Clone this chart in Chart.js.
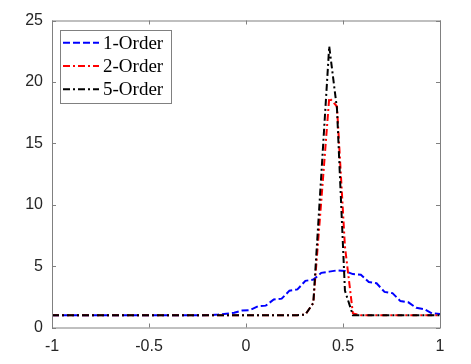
<!DOCTYPE html>
<html>
<head>
<meta charset="utf-8">
<script src="https://cdn.jsdelivr.net/npm/chart.js@4.4.1/dist/chart.umd.min.js"></script>
<style>
  body { margin: 0; background: #fff; }
  #chart { display: block; }
</style>
</head>
<body>
<canvas id="chart" width="471" height="364"></canvas>
<script>
// Grid points (x)
const xs = [
  -1.000, -0.959, -0.918, -0.878, -0.837, -0.796, -0.755, -0.714, -0.673, -0.633,
  -0.592, -0.551, -0.510, -0.469, -0.429, -0.388, -0.347, -0.306, -0.265, -0.224,
  -0.184, -0.143, -0.102, -0.061, -0.020, 0.020, 0.061, 0.102, 0.143, 0.184,
  0.224, 0.265, 0.306, 0.347, 0.388, 0.429, 0.469, 0.510, 0.551, 0.592,
  0.633, 0.673, 0.714, 0.755, 0.796, 0.837, 0.878, 0.918, 0.959, 1.000
];

const order1 = [
  1.0, 1.0, 1.0, 1.0, 1.0, 1.0, 1.0, 1.0, 1.0, 1.0,
  1.0, 1.0, 1.0, 1.0, 1.0, 1.0, 1.0, 1.0, 1.0, 1.0,
  1.02, 1.05, 1.12, 1.2, 1.38, 1.42, 1.72, 1.78, 2.28, 2.35,
  3.0, 3.1, 3.8, 3.9, 4.45, 4.55, 4.65, 4.6, 4.35, 4.3,
  3.7, 3.6, 2.9, 2.8, 2.15, 2.05, 1.6, 1.5, 1.15, 1.1
];

const order2 = [
  1.0, 1.0, 1.0, 1.0, 1.0, 1.0, 1.0, 1.0, 1.0, 1.0,
  1.0, 1.0, 1.0, 1.0, 1.0, 1.0, 1.0, 1.0, 1.0, 1.0,
  1.0, 1.0, 1.0, 1.0, 1.0, 1.0, 1.0, 1.0, 1.0, 1.0,
  1.0, 1.0, 1.05, 2.0, 10.3, 18.7, 18.0, 6.6, 1.15, 1.0,
  1.0, 1.0, 1.0, 1.0, 1.0, 1.0, 1.0, 1.0, 1.0, 1.0
];

const order5 = [
  1.0, 1.0, 1.0, 1.0, 1.0, 1.0, 1.0, 1.0, 1.0, 1.0,
  1.0, 1.0, 1.0, 1.0, 1.0, 1.0, 1.0, 1.0, 1.0, 1.0,
  1.0, 1.0, 1.0, 1.0, 1.0, 1.0, 1.0, 1.0, 1.0, 1.0,
  1.0, 1.0, 1.05, 2.0, 12.4, 22.9, 17.8, 3.0, 1.0, 1.0,
  1.0, 1.0, 1.0, 1.0, 1.0, 1.0, 1.0, 1.0, 1.0, 1.0
];

const seriesNames = ['1-Order', '2-Order', '5-Order'];
const xTicks = [-1, -0.5, 0, 0.5, 1];
const yTicks = [0, 5, 10, 15, 20, 25];

const axisColor = '#808080';
const textColor = '#262626';

function toPoints(ys) {
  return xs.map((x, i) => ({ x: x, y: ys[i] }));
}

// Rahmen und Ticks nach innen (MATLAB-Stil)
const boxPlugin = {
  id: 'box',
  afterDatasetsDraw(chart) {
    const { ctx, chartArea: a, scales } = chart;
    ctx.save();
    ctx.strokeStyle = axisColor;
    ctx.lineWidth = 1;
    ctx.strokeRect(a.left + 0.5, a.top + 0.5, a.right - a.left, a.bottom - a.top);
    ctx.beginPath();
    xTicks.forEach(v => {
      const px = Math.round(scales.x.getPixelForValue(v)) + 0.5;
      ctx.moveTo(px, a.bottom); ctx.lineTo(px, a.bottom - 4);
      ctx.moveTo(px, a.top); ctx.lineTo(px, a.top + 4);
    });
    yTicks.forEach(v => {
      const py = Math.round(scales.y.getPixelForValue(v)) + 0.5;
      ctx.moveTo(a.left, py); ctx.lineTo(a.left + 4, py);
      ctx.moveTo(a.right, py); ctx.lineTo(a.right - 4, py);
    });
    ctx.stroke();
    ctx.restore();
  }
};

// Legende oben links im Plotbereich
const legendPlugin = {
  id: 'boxLegend',
  afterDraw(chart) {
    const ctx = chart.ctx;
    const bx = 60.5, by = 30.5, bw = 111, bh = 73;
    ctx.save();
    ctx.fillStyle = '#fff';
    ctx.fillRect(bx, by, bw, bh);
    ctx.strokeStyle = axisColor;
    ctx.lineWidth = 1;
    ctx.strokeRect(bx, by, bw, bh);
    chart.data.datasets.forEach((ds, i) => {
      const y = 42.7 + i * 23.3;
      ctx.strokeStyle = ds.borderColor;
      ctx.lineWidth = 2;
      ctx.setLineDash(ds.borderDash);
      ctx.beginPath();
      ctx.moveTo(63, y);
      ctx.lineTo(99, y);
      ctx.stroke();
      ctx.setLineDash([]);
      ctx.fillStyle = '#000';
      ctx.font = '19px "Liberation Serif", serif';
      ctx.textBaseline = 'middle';
      ctx.textAlign = 'left';
      ctx.fillText(ds.label, 103, y + 1);
    });
    ctx.restore();
  }
};

const ctx = document.getElementById('chart').getContext('2d');
new Chart(ctx, {
  type: 'line',
  data: {
    datasets: [
      { label: seriesNames[0], data: toPoints(order1), borderColor: '#0000ff', borderDash: [7, 3], order: 3 },
      { label: seriesNames[1], data: toPoints(order2), borderColor: '#ff0000', borderDash: [7, 3, 2, 3], order: 2 },
      { label: seriesNames[2], data: toPoints(order5), borderColor: '#000000', borderDash: [7, 3, 2, 3], order: 1 }
    ]
  },
  options: {
    responsive: false,
    animation: false,
    elements: {
      line: { borderWidth: 2, tension: 0, fill: false },
      point: { radius: 0 }
    },
    layout: { padding: { left: 0, top: 20.5, right: 31, bottom: 0 } },
    plugins: {
      legend: { display: false },
      tooltip: { enabled: false }
    },
    scales: {
      x: {
        type: 'linear',
        min: -1,
        max: 1,
        afterBuildTicks: s => { s.ticks = xTicks.map(v => ({ value: v })); },
        afterFit: s => { s.height = 36.5; },
        grid: { display: false, drawTicks: false },
        border: { display: false },
        ticks: {
          padding: 9,
          color: textColor,
          font: { family: '"Liberation Sans", Arial, sans-serif', size: 16 },
          maxRotation: 0,
          callback: v => String(v)
        }
      },
      y: {
        min: 0,
        max: 25,
        afterBuildTicks: s => { s.ticks = yTicks.map(v => ({ value: v })); },
        afterFit: s => { s.width = 52; },
        grid: { display: false, drawTicks: false },
        border: { display: false },
        ticks: {
          padding: 9,
          color: textColor,
          font: { family: '"Liberation Sans", Arial, sans-serif', size: 16 },
          callback: v => String(v)
        }
      }
    }
  },
  plugins: [boxPlugin, legendPlugin]
});
</script>
</body>
</html>
